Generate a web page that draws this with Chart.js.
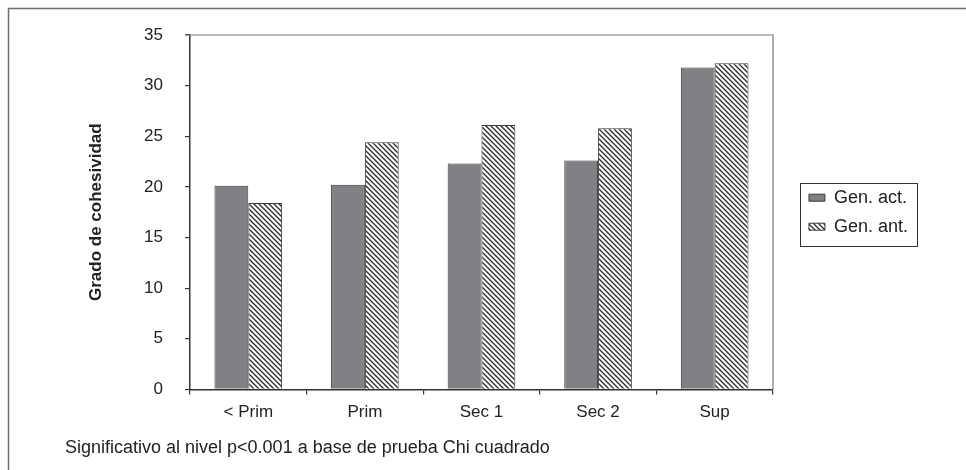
<!DOCTYPE html>
<html>
<head>
<meta charset="utf-8">
<script src="https://cdn.jsdelivr.net/npm/chart.js@4"></script>
<style>
  html, body { margin: 0; padding: 0; background: #fff; }
  #wrap { width: 966px; height: 470px; }
</style>
</head>
<body>
<div id="wrap"><canvas id="c" width="966" height="470"></canvas></div>
<script>
// Nivel educativo y grado de cohesividad por generación
const categories = ['< Prim', 'Prim', 'Sec 1', 'Sec 2', 'Sup'];
const genActual = [20.1, 20.2, 22.3, 22.6, 31.8];
const genAnterior = [18.4, 24.4, 26.1, 25.8, 32.2];
const seriesNames = ['Gen. act.', 'Gen. ant.'];
const yTicks = [0, 5, 10, 15, 20, 25, 30, 35];
const yTitle = 'Grado de cohesividad';
const footnote = 'Significativo al nivel p<0.001 a base de prueba Chi cuadrado';

const FONT = "'Liberation Sans', Arial, Helvetica, sans-serif";

// Diagonal hatch fill for the second series
function makeHatch() {
  const s = 5;
  const cv = document.createElement('canvas');
  cv.width = s; cv.height = s;
  const g = cv.getContext('2d');
  g.fillStyle = '#ffffff';
  g.fillRect(0, 0, s, s);
  g.strokeStyle = '#2a2a2a';
  g.lineWidth = 1.3;
  g.beginPath();
  g.moveTo(-1, -1); g.lineTo(s + 1, s + 1);
  g.moveTo(s - 1, -1); g.lineTo(s + 1, 1);
  g.moveTo(-1, s - 1); g.lineTo(1, s + 1);
  g.stroke();
  return g.createPattern(cv, 'repeat');
}

// Outer frame lines, plot-area top/right border and the legend box
const decorations = {
  id: 'decorations',
  beforeDraw(chart) {
    const ctx = chart.ctx;
    ctx.save();
    ctx.strokeStyle = '#6e6e6e';
    ctx.lineWidth = 1.5;
    ctx.beginPath();
    ctx.moveTo(8.5, chart.height);
    ctx.lineTo(8.5, 8.5);
    ctx.lineTo(chart.width, 8.5);
    ctx.stroke();
    ctx.restore();
  },
  afterDraw(chart) {
    const ctx = chart.ctx;
    const a = chart.chartArea;
    ctx.save();
    ctx.strokeStyle = '#7a7a7a';
    ctx.lineWidth = 1.2;
    ctx.beginPath();
    ctx.moveTo(a.left - 5, a.top);
    ctx.lineTo(a.right, a.top);
    ctx.lineTo(a.right, a.bottom);
    ctx.stroke();
    const hb = chart.legend.legendHitBoxes;
    if (hb && hb.length) {
      let l = Infinity, t = Infinity, r = -Infinity, b = -Infinity;
      hb.forEach(h => {
        l = Math.min(l, h.left); t = Math.min(t, h.top);
        r = Math.max(r, h.left + h.width); b = Math.max(b, h.top + h.height);
      });
      ctx.strokeStyle = '#333';
      ctx.lineWidth = 1;
      ctx.strokeRect(Math.round(l - 9) + 0.5, Math.round(t - 6) + 0.5,
                     Math.round(r - l + 18), Math.round(b - t + 16));
    }
    ctx.restore();
  }
};

const hatch = makeHatch();

new Chart(document.getElementById('c'), {
  type: 'bar',
  data: {
    labels: categories,
    datasets: [
      {
        label: seriesNames[0],
        data: genActual,
        backgroundColor: '#808185',
        borderColor: '#3a3a3a',
        borderWidth: 1,
        categoryPercentage: 0.58,
        barPercentage: 1.0
      },
      {
        label: seriesNames[1],
        data: genAnterior,
        backgroundColor: hatch,
        borderColor: '#3a3a3a',
        borderWidth: 1,
        categoryPercentage: 0.58,
        barPercentage: 1.0
      }
    ]
  },
  options: {
    responsive: false,
    animation: false,
    devicePixelRatio: 1,
    layout: { padding: { left: 65, top: 35, right: 48, bottom: 0 } },
    plugins: {
      legend: {
        position: 'right',
        fullSize: false,
        labels: {
          font: { family: FONT, size: 18 },
          color: '#222',
          boxWidth: 16,
          boxHeight: 7,
          padding: 11
        }
      },
      title: {
        display: true,
        text: footnote,
        position: 'bottom',
        align: 'start',
        color: '#222',
        font: { family: FONT, size: 18, weight: 'normal' },
        padding: { top: 8, bottom: 11 }
      },
      tooltip: { enabled: false }
    },
    scales: {
      x: {
        grid: {
          display: true,
          drawOnChartArea: false,
          offset: true,
          tickLength: 5,
          color: '#333',
          lineWidth: 1.2
        },
        border: { display: true, color: '#333', width: 1.5 },
        ticks: {
          font: { family: FONT, size: 17 },
          color: '#222',
          padding: 8,
          maxRotation: 0
        },
        afterFit(s) { s.height = 40; }
      },
      y: {
        min: 0,
        max: 35,
        afterBuildTicks(s) { s.ticks = yTicks.map(v => ({ value: v })); },
        grid: {
          display: true,
          drawOnChartArea: false,
          tickLength: 5,
          color: '#333',
          lineWidth: 1.2
        },
        border: { display: true, color: '#333', width: 1.5 },
        ticks: {
          font: { family: FONT, size: 17 },
          color: '#222',
          padding: 22
        },
        title: {
          display: true,
          text: yTitle,
          color: '#222',
          font: { family: FONT, size: 17, weight: 'bold' },
          padding: { top: 21, bottom: 0 }
        },
        afterFit(s) { s.width = 125; }
      },
      gap: {
        type: 'linear',
        position: 'right',
        display: true,
        grid: { display: false },
        border: { display: false },
        ticks: { display: false },
        afterFit(s) { s.width = 25; }
      }
    }
  },
  plugins: [decorations]
});
</script>
</body>
</html>
